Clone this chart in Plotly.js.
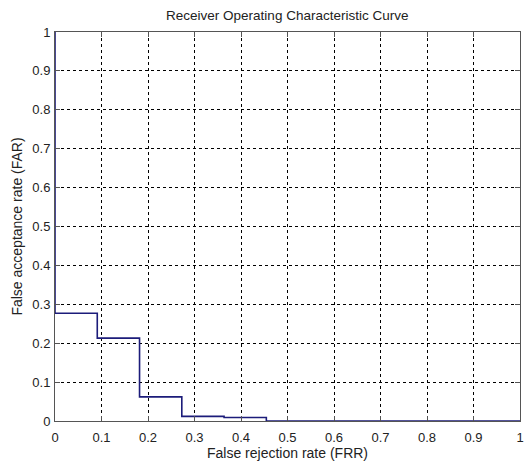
<!DOCTYPE html>
<html>
<head>
<meta charset="utf-8">
<script src="https://cdn.plot.ly/plotly-3.0.1.min.js"></script>
<style>html,body{margin:0;padding:0;background:#fff;}#chart{width:530px;height:464px;}</style>
</head>
<body>
<div id="chart"></div>
<script>
const frr = [0, 0, 0.0909, 0.1818, 0.2727, 0.3636, 0.4545, 1];
const far = [1, 0.277, 0.213, 0.062, 0.012, 0.009, 0, 0];
const tickVals = [0, 0.1, 0.2, 0.3, 0.4, 0.5, 0.6, 0.7, 0.8, 0.9, 1];
const tickText = ['0', '0.1', '0.2', '0.3', '0.4', '0.5', '0.6', '0.7', '0.8', '0.9', '1'];

const trace = {
  x: frr, y: far, type: 'scatter', mode: 'lines',
  line: {shape: 'hv', color: '#1c1c7a', width: 1.6},
  hoverinfo: 'skip'
};
const FONT = 'Liberation Sans, Arial, sans-serif';
const axisCommon = {
  range: [0, 1], tickvals: tickVals, ticktext: tickText,
  showgrid: true, gridcolor: '#000', gridwidth: 1, griddash: '3px,3px',
  zeroline: false, showline: true, linecolor: '#555', linewidth: 1, mirror: 'ticks',
  ticks: 'inside', ticklen: 5, tickcolor: '#555',
  tickfont: {family: FONT, size: 13, color: '#222'}
};
const layout = {
  width: 530, height: 464,
  margin: {l: 55, r: 10, t: 32, b: 43},
  paper_bgcolor: '#fff', plot_bgcolor: '#fff',
  showlegend: false,
  title: {text: 'Receiver Operating Characteristic Curve', x: 0.542, xanchor: 'center', y: 0.978, yanchor: 'top',
    font: {family: FONT, size: 13.5, color: '#222'}},
  xaxis: Object.assign({}, axisCommon, {
    ticklabelstandoff: 4,
    title: {text: 'False rejection rate (FRR)', standoff: 4,
      font: {family: FONT, size: 14, color: '#222'}}
  }),
  yaxis: Object.assign({}, axisCommon, {
    ticklabelstandoff: 1,
    title: {text: 'False acceptance rate (FAR)', standoff: 6,
      font: {family: FONT, size: 14, color: '#222'}}
  })
};
Plotly.newPlot('chart', [trace], layout, {displayModeBar: false, staticPlot: true});
</script>
</body>
</html>
